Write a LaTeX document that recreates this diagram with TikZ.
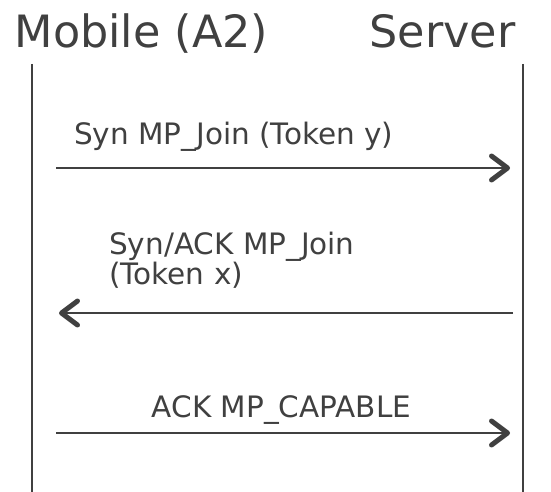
\documentclass[tikz,border=0pt]{standalone}
\usepackage{fontspec}
\setmainfont{DejaVu Sans}
\usetikzlibrary{arrows.meta}
\definecolor{ink}{HTML}{404040}
\tikzset{
  title/.style={inner sep=0pt, text=ink, font=\fontsize{44.5}{48}\selectfont},
  msglabel/.style={inner sep=0pt, text=ink, font=\fontsize{29.5}{30}\selectfont},
  lifeline/.style={draw=ink, line width=2pt},
  msg/.style={draw=ink, line width=2pt, -{Straight Barb[length=16pt, width=24pt, line width=5pt, line cap=round, line join=round]}},
}
\begin{document}
\begin{tikzpicture}[x=1pt, y=-1pt]
\useasboundingbox (0,0) rectangle (551,492);
% titles
\node[title, anchor=base] (mob) at (141.5,48) {Mobile (A2)};
\node[title, anchor=base] (srv) at (442.5,48) {Server};
% lifelines
\coordinate (mtop) at (32,64);
\coordinate (mbot) at (32,492);
\coordinate (stop) at (523,64);
\coordinate (sbot) at (523,492);
\draw[lifeline] (mtop) -- (mbot);
\draw[lifeline] (stop) -- (sbot);
% message end points
\coordinate (a1s) at (56,168);
\coordinate (a1e) at (510,168);
\coordinate (a2s) at (513,313);
\coordinate (a2e) at (59,313);
\coordinate (a3s) at (56,433);
\coordinate (a3e) at (510,433);
\draw[msg] (a1s) -- (a1e);
\draw[msg] (a2s) -- (a2e);
\draw[msg] (a3s) -- (a3e);
% labels
\node[msglabel, anchor=base west] (l1) at (74,144) {Syn MP\_Join (Token y)};
\node[msglabel, anchor=base west, align=left] (l2) at (109,284) {Syn/ACK MP\_Join\\(Token x)};
\node[msglabel, anchor=base] (l3) at (281.5,417) {ACK MP\_CAPABLE};
\end{tikzpicture}
\end{document}
